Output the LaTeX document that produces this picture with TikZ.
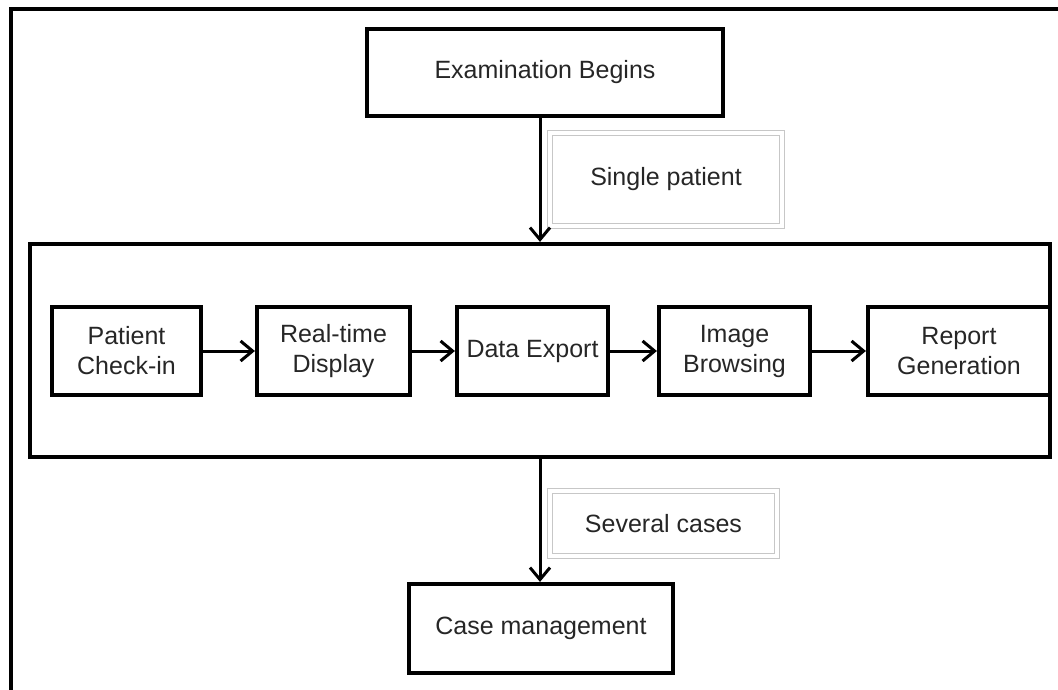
\documentclass[tikz,border=0pt]{standalone}
\usepackage{fontspec}
\setmainfont{Liberation Sans}
\usetikzlibrary{positioning,arrows.meta}

\begin{document}
\begin{tikzpicture}[
    x=1pt, y=-1pt,
    stage/.style={rectangle, draw, line width=4.2pt, inner sep=2pt, align=center,
      font=\fontsize{25}{30}\selectfont, text=black!85},
    group/.style={rectangle, draw, line width=4.2pt},
    tag/.style={rectangle, draw=black!22, double=white, double distance=3.5pt, line width=1.1pt,
      font=\fontsize{25}{30}\selectfont, text=black!85},
    arrow/.style={-{Straight Barb[length=12pt, width=20pt, line width=3pt]}, line width=3pt}
  ]
  \useasboundingbox (0,0) rectangle (1058,690);
  \draw[line width=4pt] (10.5,690) -- (10.5,9) -- (1058,9);

  \node[stage, minimum width=356pt, minimum height=87pt] (exam) at (545,72.5) {Examination Begins};
  \node[group, minimum width=1020pt, minimum height=213pt] (cont) at (540,350.5) {};

  \node[stage, minimum width=149pt, minimum height=88pt] (checkin) at (126.5,351) {Patient\\Check-in};
  \node[stage, minimum width=153pt, minimum height=88pt] (display) at (333.5,351) {Real-time\\Display};
  \node[stage, minimum width=151pt, minimum height=88pt] (export)  at (532.5,351) {Data Export};
  \node[stage, minimum width=151pt, minimum height=88pt] (browse)  at (734.5,351) {Image\\Browsing};
  \node[stage, minimum width=182pt, minimum height=88pt] (report)  at (959,351)   {Report\\Generation};

  \node[stage, minimum width=264pt, minimum height=89pt] (case) at (541,628.5) {Case management};

  \node[tag, minimum width=232pt, minimum height=93pt] (single)  at (666,179.5) {Single patient};
  \node[tag, minimum width=227pt, minimum height=65pt] (several) at (663.5,523.5) {Several cases};

  \draw[arrow] (exam.south -| cont.north) -- (cont.north);
  \draw[arrow] (checkin) -- (display);
  \draw[arrow] (display) -- (export);
  \draw[arrow] (export)  -- (browse);
  \draw[arrow] (browse)  -- (report);
  \draw[arrow] (cont.south) -- (cont.south |- case.north);
\end{tikzpicture}
\end{document}
